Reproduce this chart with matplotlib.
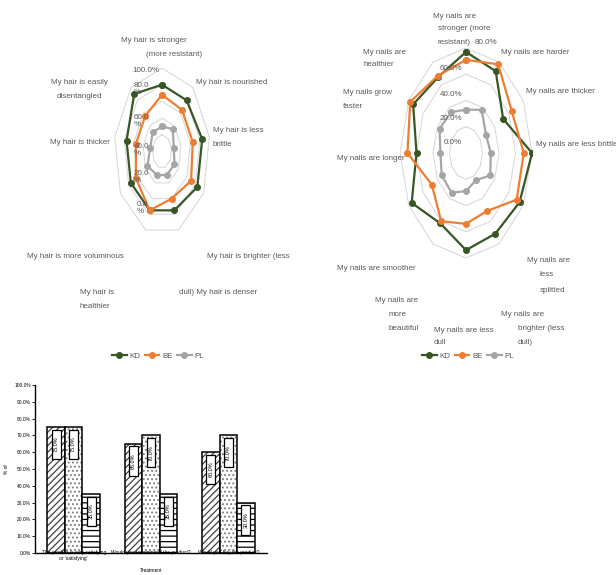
import matplotlib
matplotlib.use('Agg')
import matplotlib.pyplot as plt
from matplotlib.patches import Rectangle
import numpy as np

plt.rcParams['font.family'] = ['Liberation Sans Narrow', 'Liberation Sans', 'DejaVu Sans']

# ---- data ----
series_names = ['KD', 'BE', 'PL']

hair_categories = ['My hair is stronger (more resistant)', 'My hair is nourished',
                   'My hair is less brittle', 'My hair is brighter (less dull)',
                   'My hair is denser', 'My hair is healthier',
                   'My hair is more voluminous', 'My hair is thicker',
                   'My hair is easily disentangled']
hair_kd = [80, 80, 85, 85, 75, 75, 75, 75, 90]
hair_be = [68, 65, 65, 70, 60, 75, 63, 55, 55]
hair_pl = [30, 35, 25, 30, 30, 30, 35, 25, 30]
hair_ticks = ['0.0\n%', '20.0\n%', '40.0\n%', '60.0\n%', '80.0\n%', '100.0%']

nail_categories = ['My nails are stronger (more resistant)', 'My nails are harder',
                   'My nails are thicker', 'My nails are less brittle',
                   'My nails are less splitted', 'My nails are brighter (less dull)',
                   'My nails are less dull', 'My nails are more beautiful',
                   'My nails are smoother', 'My nails are longer',
                   'My nails grow faster', 'My nails are healthier']
nail_kd = [77, 72, 52, 80, 75, 71, 74, 62, 76, 60, 74, 67]
nail_be = [71, 78, 64, 70, 71, 51, 54, 60, 48, 71, 78, 68]
nail_pl = [33, 38, 28, 30, 34, 24, 29, 35, 34, 31, 37, 36]
nail_ticks = ['0.0%', '20.0%', '40.0%', '60.0%', '80.0%']

bar_questions = ['The product is very satisfying\nor \'satisfying\'',
                 'Would you recommend the product?',
                 'Would you buy the product?']
bar_kd = [75.0, 65.0, 60.0]
bar_be = [75.0, 70.0, 70.0]
bar_pl = [35.0, 35.0, 30.0]

# ---- layout helpers ----
W, H = 616, 575
colors = ['#375623', '#ED7D31', '#A5A5A5']
text_gray = '#595959'
fs = 5.8


def box(left, top, right, bottom):
    return [left / W, 1 - bottom / H, (right - left) / W, (bottom - top) / H]


def put(x, y, s, ha='left', size=fs, color=text_gray):
    fig.text(x / W, 1 - y / H, s, ha=ha, va='center', fontsize=size, color=color,
             linespacing=1.05)


def radar(ax, values, vmax, rings):
    n = len(values[0])
    ang = np.deg2rad(np.arange(n + 1) * 360.0 / n)
    for r in rings:
        ax.plot(r / vmax * np.sin(ang), r / vmax * np.cos(ang), color='#d9d9d9', lw=0.8)
    for name, vals, col in zip(series_names, values, colors):
        v = np.append(vals, vals[0]) / vmax
        ax.plot(v * np.sin(ang), v * np.cos(ang), color=col, lw=1.6, marker='o',
                ms=4, label=name)
    ax.set_xlim(-1, 1)
    ax.set_ylim(-1, 1)
    ax.axis('off')


fig = plt.figure(figsize=(W / 100, H / 100), dpi=100)

# ---- hair radar ----
ax_h = fig.add_axes(box(114, 68, 210, 235))
radar(ax_h, [hair_kd, hair_be, hair_pl], 100, [20, 40, 60, 80, 100])

hair_label_layout = [
    ('My hair is stronger', 154, 40, 'center'), ('(more resistant)', 174, 54, 'center'),
    ('My hair is nourished', 196, 83, 'left'),
    ('My hair is less', 213, 130, 'left'), ('brittle', 213, 145, 'left'),
    ('My hair is brighter (less', 207, 256, 'left'),
    ('dull) My hair is denser', 179, 292, 'left'),
    ('My hair is', 80, 293, 'left'), ('healthier', 80, 307, 'left'),
    ('My hair is more voluminous', 27, 257, 'left'),
    ('My hair is thicker', 50, 143, 'left'),
    ('My hair is easily', 79, 83, 'center'), ('disentangled', 79, 97, 'center'),
]
for s, x, y, ha in hair_label_layout:
    put(x, y, s, ha)

for s, (x, y) in zip(hair_ticks, [(137, 208), (134, 177), (134, 150), (134, 121),
                                  (134, 89), (132, 70)]):
    put(x, y, s, 'left')

# ---- nail radar ----
ax_n = fig.add_axes(box(400, 48, 532, 258))
radar(ax_n, [nail_kd, nail_be, nail_pl], 80, [20, 40, 60, 80])

nail_label_layout = [
    ('My nails are', 455, 16, 'center'), ('stronger (more', 464, 29, 'center'),
    ('resistant)', 438, 42, 'left'),
    ('My nails are harder', 501, 52, 'left'),
    ('My nails are thicker', 526, 91, 'left'),
    ('My nails are less brittle', 536, 145, 'left'),
    ('My nails are', 527, 261, 'left'), ('less', 540, 275, 'left'),
    ('splitted', 540, 290, 'left'),
    ('My nails are', 501, 314, 'left'), ('brighter (less', 518, 328, 'left'),
    ('dull)', 518, 343, 'left'),
    ('My nails are less', 434, 330, 'left'), ('dull', 434, 342, 'left'),
    ('My nails are', 375, 300, 'left'), ('more', 389, 314, 'left'),
    ('beautiful', 389, 328, 'left'),
    ('My nails are smoother', 337, 268, 'left'),
    ('My nails are longer', 337, 159, 'left'),
    ('My nails grow', 343, 92, 'left'), ('faster', 343, 106, 'left'),
    ('My nails are', 363, 52, 'left'), ('healthier', 363, 65, 'left'),
]
for s, x, y, ha in nail_label_layout:
    put(x, y, s, ha)

for s, (x, y) in zip(nail_ticks, [(462, 143), (462, 119), (462, 94), (462, 68), (497, 42)]):
    put(x, y, s, 'right')

# ---- legends ----
for ax, cx in [(ax_h, 158), (ax_n, 468)]:
    h, l = ax.get_legend_handles_labels()
    leg = fig.legend(h, l, loc='center', bbox_to_anchor=(cx / W, 1 - 356 / H), ncol=3,
                     frameon=False, fontsize=fs, handlelength=1.8, columnspacing=0.6,
                     handletextpad=0.3, borderpad=0)
    for t in leg.get_texts():
        t.set_color(text_gray)

# ---- bar chart ----
plt.rcParams['hatch.linewidth'] = 0.9
ax_b = fig.add_axes(box(35, 385, 267, 553))
x = np.arange(len(bar_questions))
wd = 0.226
hatches = ['/////', '....', '---']
hatch_colors = ['#404040', '#808080', 'black']
lab_w = 0.116   # label box width (data units)
lab_h = 17.5    # label box height (%)
for i, vals in enumerate([bar_kd, bar_be, bar_pl]):
    pos = x + (i - 1) * wd
    ax_b.bar(pos, vals, wd, color='white', edgecolor=hatch_colors[i], lw=0,
             hatch=hatches[i])
    ax_b.bar(pos, vals, wd, color='none', edgecolor='black', lw=1.1)
    for p, v in zip(pos, vals):
        top = v - 1.5
        ax_b.add_patch(Rectangle((p - lab_w / 2, top - lab_h), lab_w, lab_h,
                                 fc='white', ec='black', lw=0.9, zorder=3))
        ax_b.text(p, top - lab_h / 2, f'{v:.1f}%', rotation=90, ha='center',
                  va='center', fontsize=4, color='black', zorder=4)

ax_b.set_xlim(-0.5, 2.5)
ax_b.set_ylim(0, 100)
ax_b.set_yticks(np.arange(0, 101, 10))
ax_b.set_yticklabels([f'{v:.1f}%' for v in range(0, 101, 10)], fontsize=3.5)
ax_b.set_xticks(x)
ax_b.set_xticklabels(bar_questions, fontsize=3.5)
ax_b.tick_params(axis='both', length=2, width=0.6, pad=1)
ax_b.tick_params(axis='x', length=0, pad=-2)
for side in ['top', 'right']:
    ax_b.spines[side].set_visible(False)
for side in ['left', 'bottom']:
    ax_b.spines[side].set_linewidth(1.0)
ax_b.set_ylabel('% of', fontsize=3.5, labelpad=4)
ax_b.set_xlabel('Treatment', fontsize=3.5, labelpad=5)

fig.savefig('out.png', dpi=100, facecolor='white')
